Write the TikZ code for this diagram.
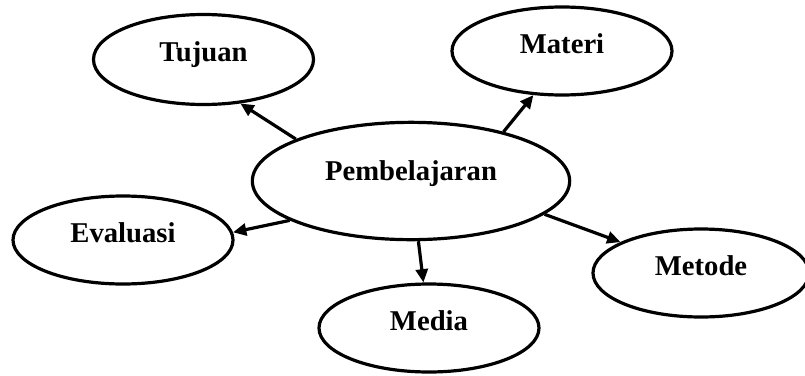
\documentclass[tikz,border=0pt]{standalone}
\usepackage{fontspec}
\setmainfont{Liberation Serif}
\usetikzlibrary{positioning, shapes.geometric, arrows.meta}

\begin{document}
\begin{tikzpicture}[x=0.75pt, y=-0.75pt,
	bubble/.style={ellipse, draw, line width=2.4pt, inner sep=0pt, minimum width=165pt, minimum height=66pt,
		font=\fontsize{21.5}{25}\selectfont\bfseries, text height=0.7em, text depth=0.38em},
	link/.style={-{Triangle[length=10pt, width=9pt]}, line width=2.4pt}]
			\useasboundingbox	(0, 0) rectangle (805, 375);
			\node	(P)		at	(411, 181)		[bubble, minimum width=238pt, minimum height=88pt, text depth=0.8em]	{Pembelajaran};
			\node	(T)		at	(203.5, 59.5)	[bubble, minimum height=67.5pt]	{Tujuan};
			\node	(Ma)	at	(562, 51)		[bubble]	{Materi};
			\node	(E)		at	(123, 240)		[bubble]	{Evaluasi};
			\node	(Me)	at	(429, 328)		[bubble]	{Media};
			\node	(Mo)	at	(701, 273)		[bubble, minimum width=162pt, text depth=0.3em]	{Metode};
			\draw	[link]	(P.160.5)	--	(T.-50);
			\draw	[link]	(P.28.8)	--	(Ma.-123);
			\draw	[link]	(P.198.4)	--	(E.4);
			\draw	[link]	(P.-83.5)	--	(Me.97.6);
			\draw	[link]	(P.-14.4)	--	(Mo.159.4);
		\end{tikzpicture}
\end{document}
